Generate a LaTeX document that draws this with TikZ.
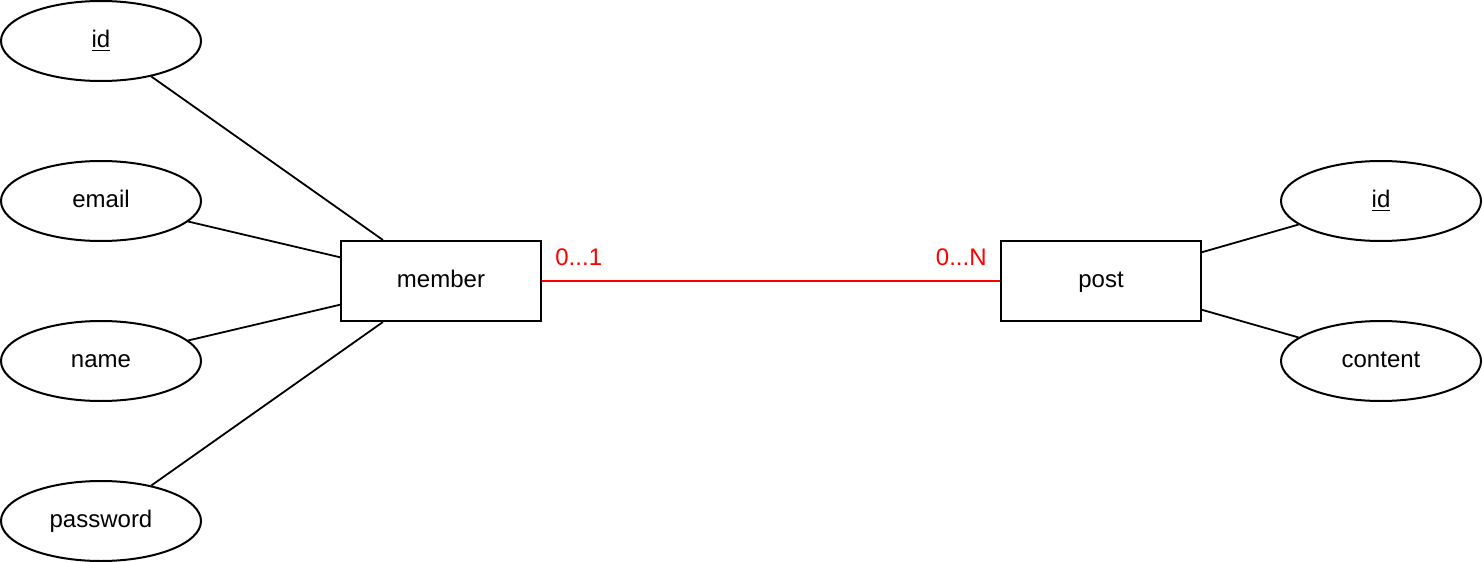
\documentclass[tikz,border=0pt]{standalone}
\usepackage{fontspec}
\setmainfont{Liberation Sans}
\usetikzlibrary{shapes.geometric}
\definecolor{relred}{HTML}{FF0000}
\begin{document}
\begin{tikzpicture}[x=0.5pt,y=-0.5pt,
  attr/.style={draw,ellipse,line width=1pt,minimum width=100pt,minimum height=40pt,inner sep=0pt,text height=8.6pt,text depth=2.4pt,font=\fontsize{12pt}{14pt}\selectfont},
  entity/.style={draw,rectangle,line width=1pt,minimum width=100pt,minimum height=40pt,inner sep=0pt,text height=8.6pt,text depth=2.4pt,font=\fontsize{12pt}{14pt}\selectfont},
  link/.style={line width=0.9pt},
  rel/.style={line width=0.9pt,relred},
  card/.style={text=relred,inner sep=0pt,font=\fontsize{12pt}{14pt}\selectfont}]
\useasboundingbox (0,0) rectangle (1484,562);
\node[attr] (mid) at (101,41) {\underline{id}};
\node[attr] (memail) at (101,201) {email};
\node[attr] (mname) at (101,361) {name};
\node[attr] (mpass) at (101,521) {password};
\node[attr] (pid) at (1381,201) {\underline{id}};
\node[attr] (pcontent) at (1381,361) {content};
\node[entity] (member) at (441,281) {member};
\node[entity] (post) at (1101,281) {post};
\draw[link] (mid) -- (member);
\draw[link] (memail) -- (member);
\draw[link] (mname) -- (member);
\draw[link] (mpass) -- (member);
\draw[link] (post) -- (pid);
\draw[link] (post) -- (pcontent);
\draw[rel] (member) -- (post);
\node[card,anchor=west] (c1) at (555,257) {0...1};
\node[card,anchor=east] (c2) at (987,257) {0...N};
\end{tikzpicture}
\end{document}
